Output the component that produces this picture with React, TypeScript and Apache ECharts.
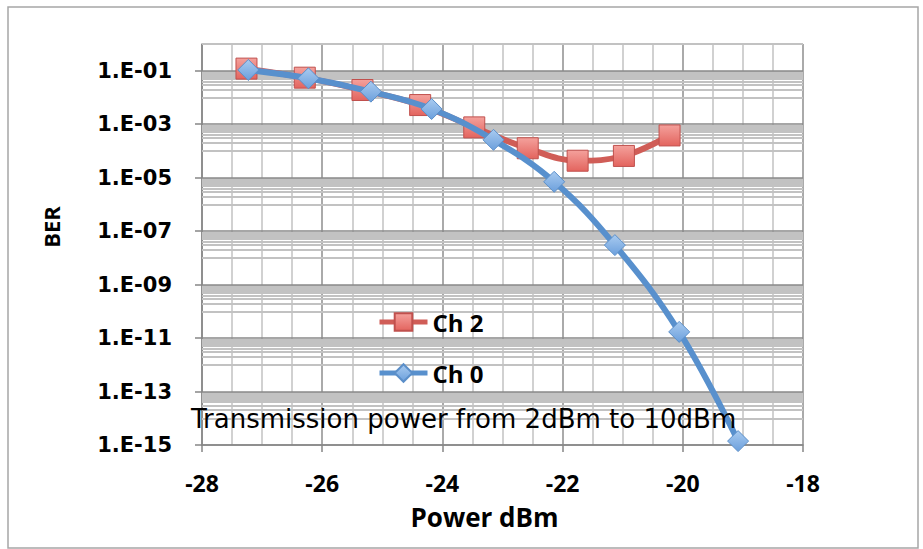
import React, { useEffect, useRef } from 'react';
import * as echarts from 'echarts';

// ---- data (BER vs received power) ----
const powerCh2 = [-27.26, -26.29, -25.33, -24.37, -23.47, -22.58, -21.75, -20.98, -20.22];
const berCh2 = [1.2e-1, 5.5e-2, 1.9e-2, 5.2e-3, 7.6e-4, 1.26e-4, 4.3e-5, 6.5e-5, 3.8e-4];
const powerCh0 = [-27.23, -26.23, -25.19, -24.18, -23.15, -22.14, -21.13, -20.06, -19.08];
const berCh0 = [1.07e-1, 5.2e-2, 1.65e-2, 3.7e-3, 2.6e-4, 7e-6, 3e-8, 1.7e-11, 1.4e-15];

// y tick exponents (labels 1.E-15 ... 1.E-01)
const yTickExponents = [-15, -13, -11, -9, -7, -5, -3, -1];
const minorMultipliers = [1, 2, 3, 4, 5, 6, 7, 8, 9];
const xMin = -28;
const xMax = -18;
const xStep = 2;
const yMinExp = -15;
const yMaxExp = 0;

const seriesNames = ['Ch 2', 'Ch 0'];
const annotation = 'Transmission power from 2dBm to 10dBm';

const WIDE = '"DejaVu Sans", Verdana, sans-serif';
const SANS = '"Open Sans", "DejaVu Sans", sans-serif';

export default function App() {
  const ref = useRef<HTMLDivElement>(null);

  useEffect(() => {
    if (!ref.current) return;
    const chart = echarts.init(ref.current, null, { renderer: 'svg' });

    const toPairs = (xs: number[], ys: number[]) => xs.map((x, i) => [x, Math.log10(ys[i])]);

    const majorLines = yTickExponents.map((e) => ({
      yAxis: e,
      lineStyle: { color: '#898989', width: 1.7, type: 'solid' },
    }));
    const minorLines: any[] = [];
    yTickExponents.forEach((e) => {
      minorMultipliers.forEach((k) => {
        const v = e + 1 + Math.log10(k);
        if (v <= yMaxExp + 1e-9) {
          minorLines.push({ yAxis: v, lineStyle: { color: '#c2c2c2', width: 1.8, type: 'solid' } });
        }
      });
    });

    const option: any = {
      animation: false,
      backgroundColor: '#ffffff',
      grid: { left: 202, right: 120, top: 44, bottom: 104, containLabel: false },
      legend: {
        data: seriesNames,
        orient: 'vertical',
        left: 377,
        top: 310,
        padding: 0,
        itemWidth: 48,
        itemHeight: 22,
        itemGap: 27,
        lineStyle: { width: 5 },
        textStyle: { fontFamily: SANS, fontWeight: 'bold', fontSize: 24, color: '#000' },
      },
      xAxis: {
        type: 'value',
        min: xMin,
        max: xMax,
        interval: xStep,
        name: 'Power dBm',
        nameLocation: 'middle',
        nameGap: 59,
        nameTextStyle: { fontFamily: SANS, fontWeight: 'bold', fontSize: 26, color: '#000', padding: [0, 36, 0, 0] },
        axisLine: { show: true, onZero: false, lineStyle: { color: '#868686', width: 1.5 } },
        axisTick: { show: true, length: 7, lineStyle: { color: '#868686', width: 1.5 } },
        axisLabel: { fontFamily: SANS, fontWeight: 'bold', fontSize: 23, color: '#000', margin: 26 },
        splitLine: { show: true, lineStyle: { color: '#959595', width: 1.6 } },
        minorTick: { show: false, splitNumber: 4 },
        minorSplitLine: { show: true, lineStyle: { color: '#c6c6c6', width: 1.6 } },
      },
      yAxis: {
        type: 'value',
        min: yMinExp,
        max: yMaxExp,
        name: 'BER',
        nameLocation: 'middle',
        nameGap: 140,
        nameRotate: 90,
        nameTextStyle: { fontFamily: SANS, fontWeight: 'bold', fontSize: 22, color: '#000', padding: [0, 0, 0, 35] },
        axisLine: { show: true, onZero: false, lineStyle: { color: '#868686', width: 1.5 } },
        axisTick: { show: true, length: 7, customValues: yTickExponents, lineStyle: { color: '#868686', width: 1.5 } },
        axisLabel: {
          customValues: yTickExponents,
          fontFamily: WIDE,
          fontWeight: 'bold',
          fontSize: 21,
          color: '#000',
          margin: 30,
          formatter: (v: number) => '1.E-' + String(Math.round(-v)).padStart(2, '0'),
        },
        splitLine: { show: false },
      },
      series: [
        {
          name: 'grid',
          type: 'line',
          data: [],
          silent: true,
          z: 1,
          markLine: {
            silent: true,
            z: 1,
            symbol: 'none',
            label: { show: false },
            emphasis: { disabled: true },
            data: [...minorLines, ...majorLines],
          },
        },
        {
          name: seriesNames[0],
          type: 'line',
          smooth: 0.4,
          data: toPairs(powerCh2, berCh2),
          symbol: 'rect',
          symbolSize: 21,
          lineStyle: { color: '#d05d57', width: 6 },
          itemStyle: {
            color: new echarts.graphic.LinearGradient(0, 0, 0, 1, [
              { offset: 0, color: '#f4a19c' },
              { offset: 1, color: '#e3645e' },
            ]),
            borderColor: '#c0504d',
            borderWidth: 1,
          },
          z: 3,
        },
        {
          name: seriesNames[1],
          type: 'line',
          smooth: 0.4,
          data: toPairs(powerCh0, berCh0),
          symbol: 'diamond',
          symbolSize: 21,
          lineStyle: { color: '#5890cd', width: 6 },
          itemStyle: {
            color: new echarts.graphic.LinearGradient(0, 0, 0, 1, [
              { offset: 0, color: '#a9cbf0' },
              { offset: 1, color: '#6b9fdc' },
            ]),
            borderColor: '#5b8fc9',
            borderWidth: 1,
          },
          z: 4,
        },
      ],
      graphic: [
        {
          type: 'rect',
          shape: { x: 8, y: 7, width: 910, height: 541 },
          style: { fill: 'none', stroke: '#a6a6a6', lineWidth: 1.5 },
          silent: true,
          z: -1,
        },
        {
          type: 'text',
          x: 191,
          y: 419,
          style: {
            text: annotation,
            fontFamily: WIDE,
            fontSize: 26,
            fill: '#000',
            textVerticalAlign: 'middle',
            textAlign: 'left',
          },
          z: 10,
        },
      ],
    };

    chart.setOption(option);
    return () => chart.dispose();
  }, []);

  return (
    <div
      ref={ref}
      style={{ position: 'absolute', left: 0, top: 0, width: 923, height: 549, background: '#fff' }}
    />
  );
}
